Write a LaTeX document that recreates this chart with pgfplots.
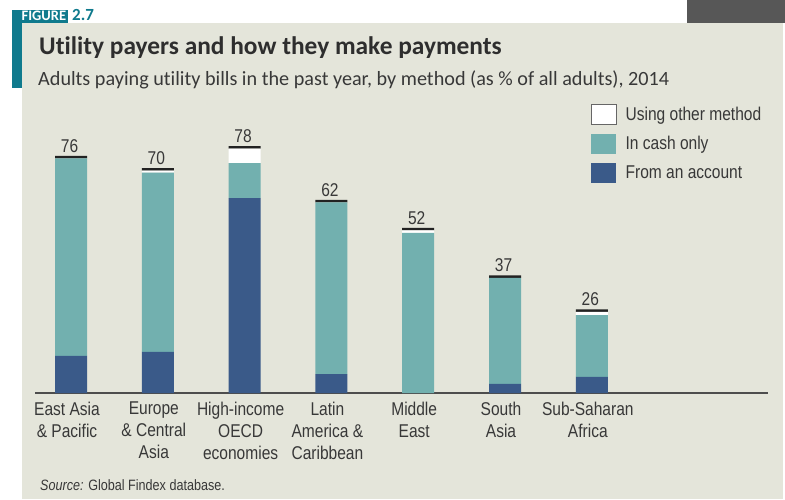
\documentclass[border=0pt]{standalone}
\usepackage{pgfplots}
\pgfplotsset{compat=1.18}
\usepackage{fontspec}
\setmainfont{Carlito}[Ligatures={NoCommon}]
\newfontfamily\cond[FakeStretch=0.84]{Liberation Sans}
\definecolor{panel}{HTML}{E4E5DA}
\definecolor{cashc}{HTML}{72B0AF}
\definecolor{acctc}{HTML}{3A5A89}
\definecolor{capc}{HTML}{222222}
\definecolor{accent}{HTML}{0F7A8D}
\definecolor{darkbox}{HTML}{575757}
\definecolor{titlec}{HTML}{2E2E2E}
\definecolor{textc}{HTML}{383838}
\definecolor{axisc}{HTML}{4D4D4D}
\newcommand\lab{\cond\fontsize{18.5}{21.7}\selectfont}

\begin{document}
\begin{tikzpicture}[x=1pt,y=1pt]
\path[use as bounding box] (0,0) rectangle (785,499);
\fill[white] (0,0) rectangle (785,499);
\fill[panel] (22,0) rectangle (783,476);
\fill[darkbox] (687,476) rectangle (785,499);
\fill[accent] (12,411) rectangle (22,489);
\fill[accent] (12,476) rectangle (68,489);
\node[anchor=base west, inner sep=0pt, text=white, font=\bfseries\fontsize{14.5}{15}\selectfont] at (21.5,478.3) {FIGURE};
\node[anchor=base west, inner sep=0pt, text=accent, font=\bfseries\fontsize{17}{18}\selectfont] at (72,478.3) {2.7};
\node[anchor=base west, inner sep=0pt, text=titlec, font=\bfseries\fontsize{25.4}{28}\selectfont] at (39,444) {Utility payers and how they make payments};
\node[anchor=base west, inner sep=0pt, text=textc, font=\fontsize{20.2}{22}\selectfont] at (38,413) {Adults paying utility bills in the past year, by method (as \% of all adults), 2014};
\node[anchor=base west, inner sep=0pt, text=textc, font=\cond\fontsize{15}{17}\selectfont] at (40,9) {\textit{Source:} Global Findex database.};

\begin{axis}[
    at={(35pt,106pt)}, anchor=south west,
    scale only axis, width=733pt, height=298.3pt,
    xmin=-0.415, xmax=8.03, ymin=0, ymax=95,
    ybar stacked, bar width=32pt,
    axis x line=bottom, axis y line=none,
    x axis line style={-, line width=1.3pt, draw=axisc},
    xtick={0,...,6},
    xticklabels={{East Asia\\\& Pacific},{Europe\\\& Central\\Asia},{High-income\\OECD\\economies},{Latin\\America \&\\Caribbean},{Middle\\East},{South\\Asia},{Sub-Saharan\\Africa}},
    major tick length=0pt,
    xticklabel style={font=\lab, align=center, text=textc, inner sep=0pt, anchor=north, yshift=-9pt, xshift=-4pt},
    legend style={at={(0.758,0.969)}, anchor=north west, draw=none, fill=none,
        inner sep=0pt, row sep=9pt, font=\lab, text=textc,
        nodes={inner sep=0pt},
        /tikz/every odd column/.append style={column sep=9pt}},
    legend cell align=left, reverse legend,
    legend image code/.code={\fill[#1] (0pt,-10pt) rectangle (25pt,10pt);},
]
\addplot[fill=acctc, draw=none] coordinates {(0,11.8)(1,13.1)(2,62.1)(3,6.05)(4,0)(5,2.9)(6,5.1)};
\addlegendentry{From an account}
\addplot[fill=cashc, draw=none] coordinates {(0,62.9)(1,57.1)(2,11.1)(3,54.65)(4,51.0)(5,33.8)(6,19.7)};
\addlegendentry{In cash only}
\addplot[fill=white, draw=none,
    legend image code/.code={\fill[white, draw=gray!80!black, line width=0.8pt] (0pt,-10pt) rectangle (25pt,10pt);}]
    coordinates {(0,0)(1,0.6)(2,4.6)(3,0)(4,0.8)(5,0)(6,1.0)};
\addlegendentry{Using other method}
\addplot[fill=capc, draw=none, forget plot,
    nodes near coords, point meta=explicit symbolic,
    every node near coord/.append style={anchor=base, inner sep=0pt, yshift=5pt, xshift=-1.5pt, font=\lab, text=textc}]
    coordinates {(0,0.8)[76] (1,0.8)[70] (2,0.8)[78] (3,0.8)[62] (4,0.8)[52] (5,0.8)[37] (6,0.8)[26]};
\end{axis}
\end{tikzpicture}
\end{document}
